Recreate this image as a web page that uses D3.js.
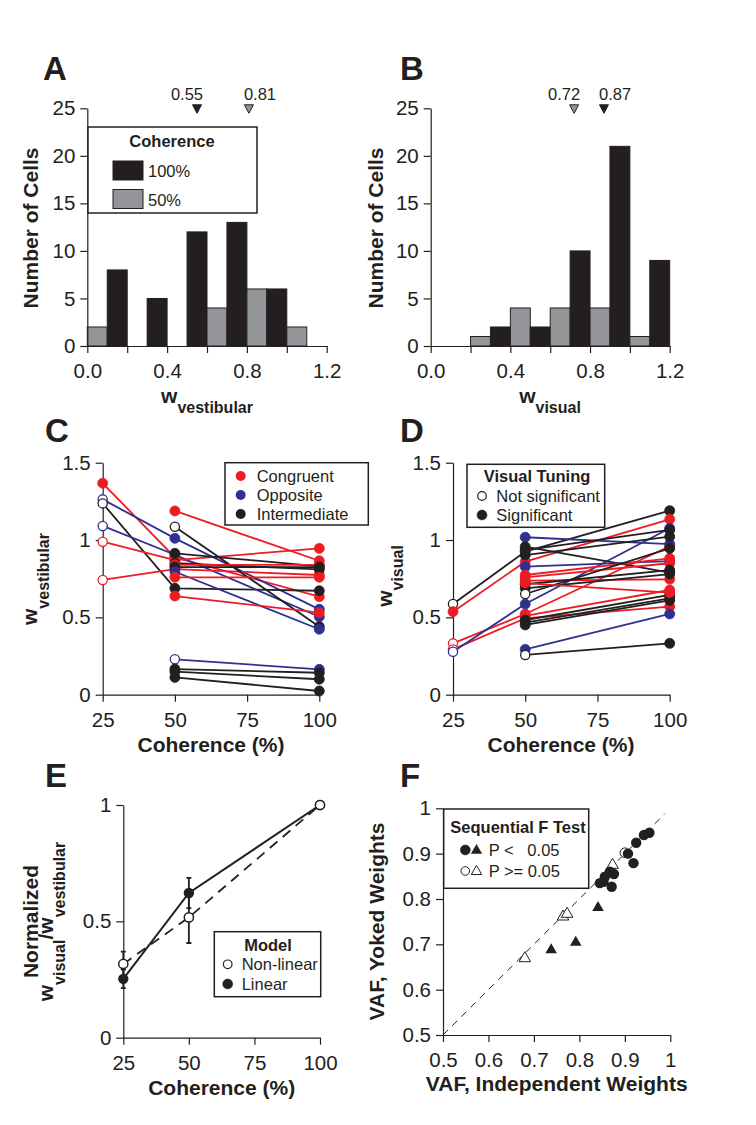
<!DOCTYPE html>
<html><head><meta charset="utf-8">
<script src="https://cdn.jsdelivr.net/npm/d3@7"></script>
<style>body{margin:0;background:#fff}svg{display:block}text{font-family:"Liberation Sans",Arial,Helvetica,sans-serif}</style>
</head><body><svg id="fig" width="756" height="1125"></svg>
<script>
// ---------- Panel A / B : histograms ----------
const binStarts = [0.0, 0.2, 0.4, 0.6, 0.8, 1.0];
const vestCounts100 = [8, 5, 12, 13, 6, 0];
const vestCounts50  = [2, 0, 0, 4, 6, 2];
const visCounts100  = [0, 2, 2, 10, 21, 9];
const visCounts50   = [0, 1, 4, 4, 4, 1];
const vestMedianValues = [0.55, 0.81];   // black (100%), gray (50%)
const vestMedianFill = ["black", "gray"];
const visMedianValues  = [0.72, 0.87];   // gray (50%), black (100%)
const visMedianFill = ["gray", "black"];
const histXTicks = [0, 0.2, 0.4, 0.6, 0.8, 1.0, 1.2];
const histXLabels = ["0.0", "", "0.4", "", "0.8", "", "1.2"];
const histYTicks = [0, 5, 10, 15, 20, 25];
const histLegend = ["100%", "50%"];

// ---------- Panel C : w_vestibular ----------
const cType = ["Congruent","Opposite","Intermediate","Opposite","Congruent","Congruent","Congruent","Intermediate","Intermediate","Intermediate","Congruent","Intermediate","Opposite","Congruent","Congruent","Opposite","Intermediate","Intermediate","Intermediate"];
const cW25   = [1.367, 1.263, 1.237, 1.091, 0.989, 0.742, null, null, null, null, null, null, null, null, null, null, null, null, null];
const cOpen25= [0, 1, 1, 1, 1, 1, 0, 0, 0, 0, 0, 0, 0, 0, 0, 0, 0, 0, 0];
const cW50   = [0.888, 1.011, 0.688, 0.905, 0.870, 0.812, 1.188, 1.086, 0.914, 0.850, 0.840, 0.825, 0.795, 0.759, 0.638, 0.229, 0.166, 0.149, 0.112];
const cOpen50= [0, 0, 0, 0, 0, 0, 0, 1, 0, 0, 0, 0, 0, 0, 0, 1, 0, 0, 0];
const cW100  = [0.634, 0.552, 0.672, 0.504, 0.946, 0.774, 0.866, 0.440, 0.830, 0.810, 0.839, 0.825, 0.423, 0.759, 0.530, 0.164, 0.142, 0.100, 0.024];

// ---------- Panel D : w_visual ----------
const dType = ["Intermediate","Congruent","Congruent","Congruent","Opposite","Opposite","Intermediate","Intermediate","Intermediate","Opposite","Congruent","Congruent","Congruent","Intermediate","Intermediate","Intermediate","Congruent","Intermediate","Intermediate","Intermediate","Opposite","Intermediate","Congruent"];
const dW25   = [0.586, 0.537, 0.332, 0.293, 0.278, null, null, null, null, null, null, null, null, null, null, null, null, null, null, null, null, null, null];
const dOpen25= [1, 0, 1, 1, 1, 0, 0, 0, 0, 0, 0, 0, 0, 0, 0, 0, 0, 0, 0, 0, 0, 0, 0];
const dW50   = [0.925, 0.860, 0.522, 0.494, 0.586, 1.018, 0.957, 0.935, 0.903, 0.828, 0.774, 0.759, 0.737, 0.714, 0.688, 0.651, 0.510, 0.483, 0.466, 0.451, 0.293, 0.257, 0.722];
const dOpen50= [0, 0, 0, 0, 0, 0, 0, 0, 0, 0, 0, 0, 0, 0, 0, 1, 0, 0, 0, 0, 0, 1, 0];
const dW100  = [1.190, 1.134, 0.960, 0.570, 1.076, 0.974, 0.790, 1.065, 1.022, 0.864, 0.882, 0.850, 0.746, 0.806, 0.780, 0.946, 0.677, 0.645, 0.623, 0.610, 0.522, 0.332, 0.660];
const cohTicks = [25, 50, 75, 100];
const wTicks = [0, 0.5, 1, 1.5];
const wTickLabels = ["0", "0.5", "1", "1.5"];
const cLegend = ["Congruent", "Opposite", "Intermediate"];
const dLegend = ["Not significant", "Significant"];

// ---------- Panel E ----------
const eCoh = [25, 50, 100];
const eLinear = [0.253, 0.622, 1.0];
const eLinearErr = [0.040, 0.065, 0];
const eNonlin = [0.317, 0.517, 1.0];
const eNonlinErr = [0.053, 0.110, 0];
const eYTicks = [0, 0.5, 1];
const eYLabels = ["0", "0.5", "1"];
const eLegend = ["Non-linear", "Linear"];

// ---------- Panel F ----------
const fSigCircles = [[0.954,0.946],[0.942,0.941],[0.925,0.924],[0.919,0.879],[0.907,0.900],[0.876,0.855],[0.867,0.860],[0.856,0.849],[0.853,0.838],[0.871,0.827],[0.845,0.835]];
const fSigTriangles = [[0.841,0.781],[0.792,0.704],[0.738,0.6875]];
const fNsTriangles = [[0.680,0.669],[0.764,0.761],[0.773,0.767],[0.873,0.875]];
const fNsCircles = [[0.900,0.902]];
const fTicks = [0.5, 0.6, 0.7, 0.8, 0.9, 1.0];
const fTickLabels = ["0.5", "0.6", "0.7", "0.8", "0.9", "1"];
const fLegend = ["P <   0.05", "P >= 0.05"];

// ---------- drawing ----------
const INK = "#231f20", RED = "#ed1c24", BLUE = "#2e3192", GRAY = "#939598";
const typeColor = {Congruent: RED, Opposite: BLUE, Intermediate: INK};
const svg = d3.select("#fig");
svg.append("rect").attr("width", 756).attr("height", 1125).attr("fill", "#fff");

function styleAxis(g) {
  g.select(".domain").attr("stroke", INK).attr("stroke-width", 1.2);
  g.selectAll(".tick line").attr("stroke", INK).attr("stroke-width", 1.2);
  g.selectAll(".tick text").attr("font-size", 20.5).attr("fill", INK)
    .attr("font-family", '"Liberation Sans",Arial,sans-serif');
}
function drawAxes(x, y, xt, xl, yt, yl) {
  const gx = svg.append("g").attr("transform", `translate(0,${y.range()[0]})`)
    .call(d3.axisBottom(x).tickValues(xt).tickFormat((d, i) => xl[i]).tickSize(7).tickSizeOuter(0).tickPadding(10.5));
  const gy = svg.append("g").attr("transform", `translate(${x.range()[0]},0)`)
    .call(d3.axisLeft(y).tickValues(yt).tickFormat((d, i) => yl[i]).tickSize(7).tickSizeOuter(0).tickPadding(5));
  styleAxis(gx); styleAxis(gy);
}
function title(x, y, parts, rotate) {
  const t = svg.append("text").attr("text-anchor", "middle").attr("font-weight", "bold").attr("fill", INK);
  if (rotate) t.attr("transform", `translate(${x},${y}) rotate(-90)`); else t.attr("x", x).attr("y", y);
  parts.forEach(([s, size, dy]) => t.append("tspan").attr("font-size", size).attr("dy", dy).text(s));
}
function letter(x, y, s) {
  svg.append("text").attr("x", x).attr("y", y).attr("font-size", 33).attr("font-weight", "bold").attr("fill", INK).text(s);
}
function plainText(x, y, s, opts = {}) {
  return svg.append("text").attr("x", x).attr("y", y).attr("font-size", opts.size || 16.5)
    .attr("font-weight", opts.bold ? "bold" : "normal").attr("text-anchor", opts.anchor || "start")
    .attr("fill", INK).style("white-space", "pre").text(s);
}

// Histograms
function histogram(x, y, c50, c100, medians, fills) {
  binStarts.forEach((s, i) => {
    [[c50[i], s, GRAY], [c100[i], s + 0.1, INK]].forEach(([c, x0, col]) => {
      if (c > 0) svg.append("rect").attr("x", x(x0)).attr("y", y(c)).attr("width", x(x0 + 0.1) - x(x0))
        .attr("height", y(0) - y(c)).attr("fill", col).attr("stroke", INK).attr("stroke-width", 1);
    });
  });
  drawAxes(x, y, histXTicks, histXLabels, histYTicks, histYTicks.map(String));
  const top = y(25) - 3.5;
  medians.forEach((m, i) => {
    const cx = x(m);
    svg.append("path").attr("d", `M${cx - 4.5},${top}L${cx + 4.5},${top}L${cx},${top + 8.5}Z`)
      .attr("fill", fills[i] === "black" ? INK : GRAY).attr("stroke", INK).attr("stroke-width", 1);
    if (i === 0) plainText(cx + 6, 99.5, m.toFixed(2), {anchor: "end"});
    else plainText(cx - 5, 99.5, m.toFixed(2), {anchor: "start"});
  });
}
const xA = d3.scaleLinear([0, 1.2], [87.3, 326.7]);
const yA = d3.scaleLinear([0, 25], [346, 108.3]);
histogram(xA, yA, vestCounts50, vestCounts100, vestMedianValues, vestMedianFill);
const xB = d3.scaleLinear([0, 1.2], [430.7, 669.7]);
histogram(xB, yA, visCounts50, visCounts100, visMedianValues, visMedianFill);
// legend A
svg.append("rect").attr("x", 88).attr("y", 127).attr("width", 169).attr("height", 86).attr("fill", "#fff").attr("stroke", INK).attr("stroke-width", 1.5);
plainText(172, 147, "Coherence", {bold: true, anchor: "middle"});
[INK, GRAY].forEach((col, i) => {
  svg.append("rect").attr("x", 113).attr("y", 161 + i * 28.5).attr("width", 30).attr("height", 19).attr("fill", col).attr("stroke", INK).attr("stroke-width", 1);
  plainText(148, 176.5 + i * 29, histLegend[i]);
});
letter(43, 80, "A"); letter(400, 80, "B");
title(38, 228, [["Number of Cells", 21, 0]], true);
title(383, 228, [["Number of Cells", 21, 0]], true);
title(207, 403, [["w", 21, 0], ["vestibular", 16, 10]]);
title(550, 403, [["w", 21, 0], ["visual", 16, 10]]);

// Line panels C and D
function linePanel(x, y, types, w25, o25, w50, o50, w100) {
  const line = d3.line().x(d => x(d[0])).y(d => y(d[1]));
  const cells = types.map((t, i) => {
    const pts = [];
    if (w25[i] != null) pts.push([25, w25[i], o25[i]]);
    pts.push([50, w50[i], o50[i]]);
    pts.push([100, w100[i], 0]);
    return {t, pts};
  });
  drawAxes(x, y, cohTicks, cohTicks.map(String), wTicks, wTickLabels);
  cells.forEach(c => svg.append("path").attr("d", line(c.pts)).attr("fill", "none")
    .attr("stroke", typeColor[c.t]).attr("stroke-width", 1.8));
  cells.forEach(c => c.pts.forEach(p => {
    svg.append("circle").attr("cx", x(p[0])).attr("cy", y(p[1])).attr("r", p[2] ? 4.6 : 5)
      .attr("fill", p[2] ? "#fff" : typeColor[c.t]).attr("stroke", typeColor[c.t]).attr("stroke-width", p[2] ? 1.3 : 0.8);
  }));
}
const xC = d3.scaleLinear([25, 100], [102.7, 319.3]);
const yC = d3.scaleLinear([0, 1.5], [694.7, 462.7]);
linePanel(xC, yC, cType, cW25, cOpen25, cW50, cOpen50, cW100);
const xD = d3.scaleLinear([25, 100], [453, 669.7]);
linePanel(xD, yC, dType, dW25, dOpen25, dW50, dOpen50, dW100);
// legend C
svg.append("rect").attr("x", 225).attr("y", 462.7).attr("width", 143.3).attr("height", 62.3).attr("fill", "#fff").attr("stroke", INK).attr("stroke-width", 1.5);
[RED, BLUE, INK].forEach((col, i) => {
  svg.append("circle").attr("cx", 240.7).attr("cy", 476 + i * 19).attr("r", 5).attr("fill", col);
  plainText(256.7, 481.8 + i * 19, cLegend[i]);
});
// legend D
svg.append("rect").attr("x", 467).attr("y", 464.3).attr("width", 137.7).attr("height", 63).attr("fill", "#fff").attr("stroke", INK).attr("stroke-width", 1.5);
plainText(537, 481.7, "Visual Tuning", {bold: true, anchor: "middle"});
[1, 0].forEach((open, i) => {
  svg.append("circle").attr("cx", 482).attr("cy", 496 + i * 19).attr("r", open ? 4.3 : 5)
    .attr("fill", open ? "#fff" : INK).attr("stroke", INK).attr("stroke-width", open ? 1.2 : 0.5);
  plainText(496.3, 501.8 + i * 19, dLegend[i]);
});
letter(45, 441.7, "C"); letter(400, 441.7, "D");
title(37, 579, [["w", 21, 0], ["vestibular", 16, 12]], true);
title(392, 576, [["w", 21, 0], ["visual", 16, 11]], true);
title(211, 752, [["Coherence (%)", 21, 0]]);
title(561, 752, [["Coherence (%)", 21, 0]]);

// Panel E
const xE = d3.scaleLinear([25, 100], [123.3, 320]);
const yE = d3.scaleLinear([0, 1], [1037.7, 805]);
drawAxes(xE, yE, cohTicks, cohTicks.map(String), eYTicks, eYLabels);
const eLine = d3.line().x((d, i) => xE(eCoh[i])).y(d => yE(d));
svg.append("path").attr("d", eLine(eNonlin)).attr("fill", "none").attr("stroke", INK).attr("stroke-width", 1.8).attr("stroke-dasharray", "10,7");
svg.append("path").attr("d", eLine(eLinear)).attr("fill", "none").attr("stroke", INK).attr("stroke-width", 2);
function errBars(vals, errs) {
  vals.forEach((v, i) => {
    if (!errs[i]) return;
    const cx = xE(eCoh[i]), y1 = yE(v - errs[i]), y2 = yE(v + errs[i]);
    svg.append("path").attr("d", `M${cx},${y1}V${y2}M${cx - 2.5},${y1}H${cx + 2.5}M${cx - 2.5},${y2}H${cx + 2.5}`)
      .attr("stroke", INK).attr("stroke-width", 1.8).attr("fill", "none");
  });
}
errBars(eNonlin, eNonlinErr); errBars(eLinear, eLinearErr);
eLinear.forEach((v, i) => svg.append("circle").attr("cx", xE(eCoh[i])).attr("cy", yE(v)).attr("r", 5.2).attr("fill", INK));
eNonlin.forEach((v, i) => svg.append("circle").attr("cx", xE(eCoh[i])).attr("cy", yE(v)).attr("r", 4.6).attr("fill", "#fff").attr("stroke", INK).attr("stroke-width", 1.5));
svg.append("rect").attr("x", 214.3).attr("y", 931.7).attr("width", 106.4).attr("height", 65).attr("fill", "#fff").attr("stroke", INK).attr("stroke-width", 1.5);
plainText(268, 950.7, "Model", {bold: true, anchor: "middle"});
[1, 0].forEach((open, i) => {
  svg.append("circle").attr("cx", 227.7).attr("cy", 964.3 + i * 19.7).attr("r", open ? 4.3 : 5)
    .attr("fill", open ? "#fff" : INK).attr("stroke", INK).attr("stroke-width", open ? 1.2 : 0.5);
  plainText(241.7, 970 + i * 19.7, eLegend[i]);
});
letter(45, 787, "E");
title(38, 921.5, [["Normalized", 21, 0]], true);
title(53, 921.5, [["w", 21, 0], ["visual", 16, 12], ["/w", 21, -12], ["vestibular", 16, 12]], true);
title(221.7, 1095, [["Coherence (%)", 21, 0]]);

// Panel F
const xF = d3.scaleLinear([0.5, 1], [443, 670.3]);
const yF = d3.scaleLinear([0.5, 1], [1035, 808.3]);
drawAxes(xF, yF, fTicks, fTickLabels, fTicks, fTickLabels);
svg.append("line").attr("x1", xF(0.5)).attr("y1", yF(0.5)).attr("x2", xF(0.988)).attr("y2", yF(0.988))
  .attr("stroke", INK).attr("stroke-width", 1).attr("stroke-dasharray", "7,6");
const tri = d3.symbol(d3.symbolTriangle, 58);
const triSmall = d3.symbol(d3.symbolTriangle, 48);
fNsTriangles.forEach(p => svg.append("path").attr("d", tri()).attr("transform", `translate(${xF(p[0])},${yF(p[1])})`).attr("fill", "#fff").attr("stroke", INK).attr("stroke-width", 1));
fNsCircles.forEach(p => svg.append("circle").attr("cx", xF(p[0])).attr("cy", yF(p[1])).attr("r", 4.8).attr("fill", "#fff").attr("stroke", INK).attr("stroke-width", 1));
fSigTriangles.forEach(p => svg.append("path").attr("d", tri()).attr("transform", `translate(${xF(p[0])},${yF(p[1])})`).attr("fill", INK));
fSigCircles.forEach(p => svg.append("circle").attr("cx", xF(p[0])).attr("cy", yF(p[1])).attr("r", 5.2).attr("fill", INK));
svg.append("rect").attr("x", 443.7).attr("y", 809).attr("width", 145).attr("height", 79.3).attr("fill", "#fff").attr("stroke", INK).attr("stroke-width", 1.5);
plainText(518, 832.5, "Sequential F Test", {bold: true, anchor: "middle"});
[0, 1].forEach(i => {
  const cy = 850 + i * 21;
  svg.append("circle").attr("cx", 465.3).attr("cy", cy).attr("r", i ? 4.3 : 5).attr("fill", i ? "#fff" : INK).attr("stroke", INK).attr("stroke-width", i ? 1 : 0.5);
  svg.append("path").attr("d", triSmall()).attr("transform", `translate(476.5,${cy + 0.5})`).attr("fill", i ? "#fff" : INK).attr("stroke", INK).attr("stroke-width", i ? 1 : 0.5);
  plainText(488.7, cy + 6, fLegend[i]);
});
letter(400, 787, "F");
title(384, 921.5, [["VAF, Yoked Weights", 21, 0]], true);
title(556.7, 1091, [["VAF, Independent Weights", 21, 0]]);
</script></body></html>
